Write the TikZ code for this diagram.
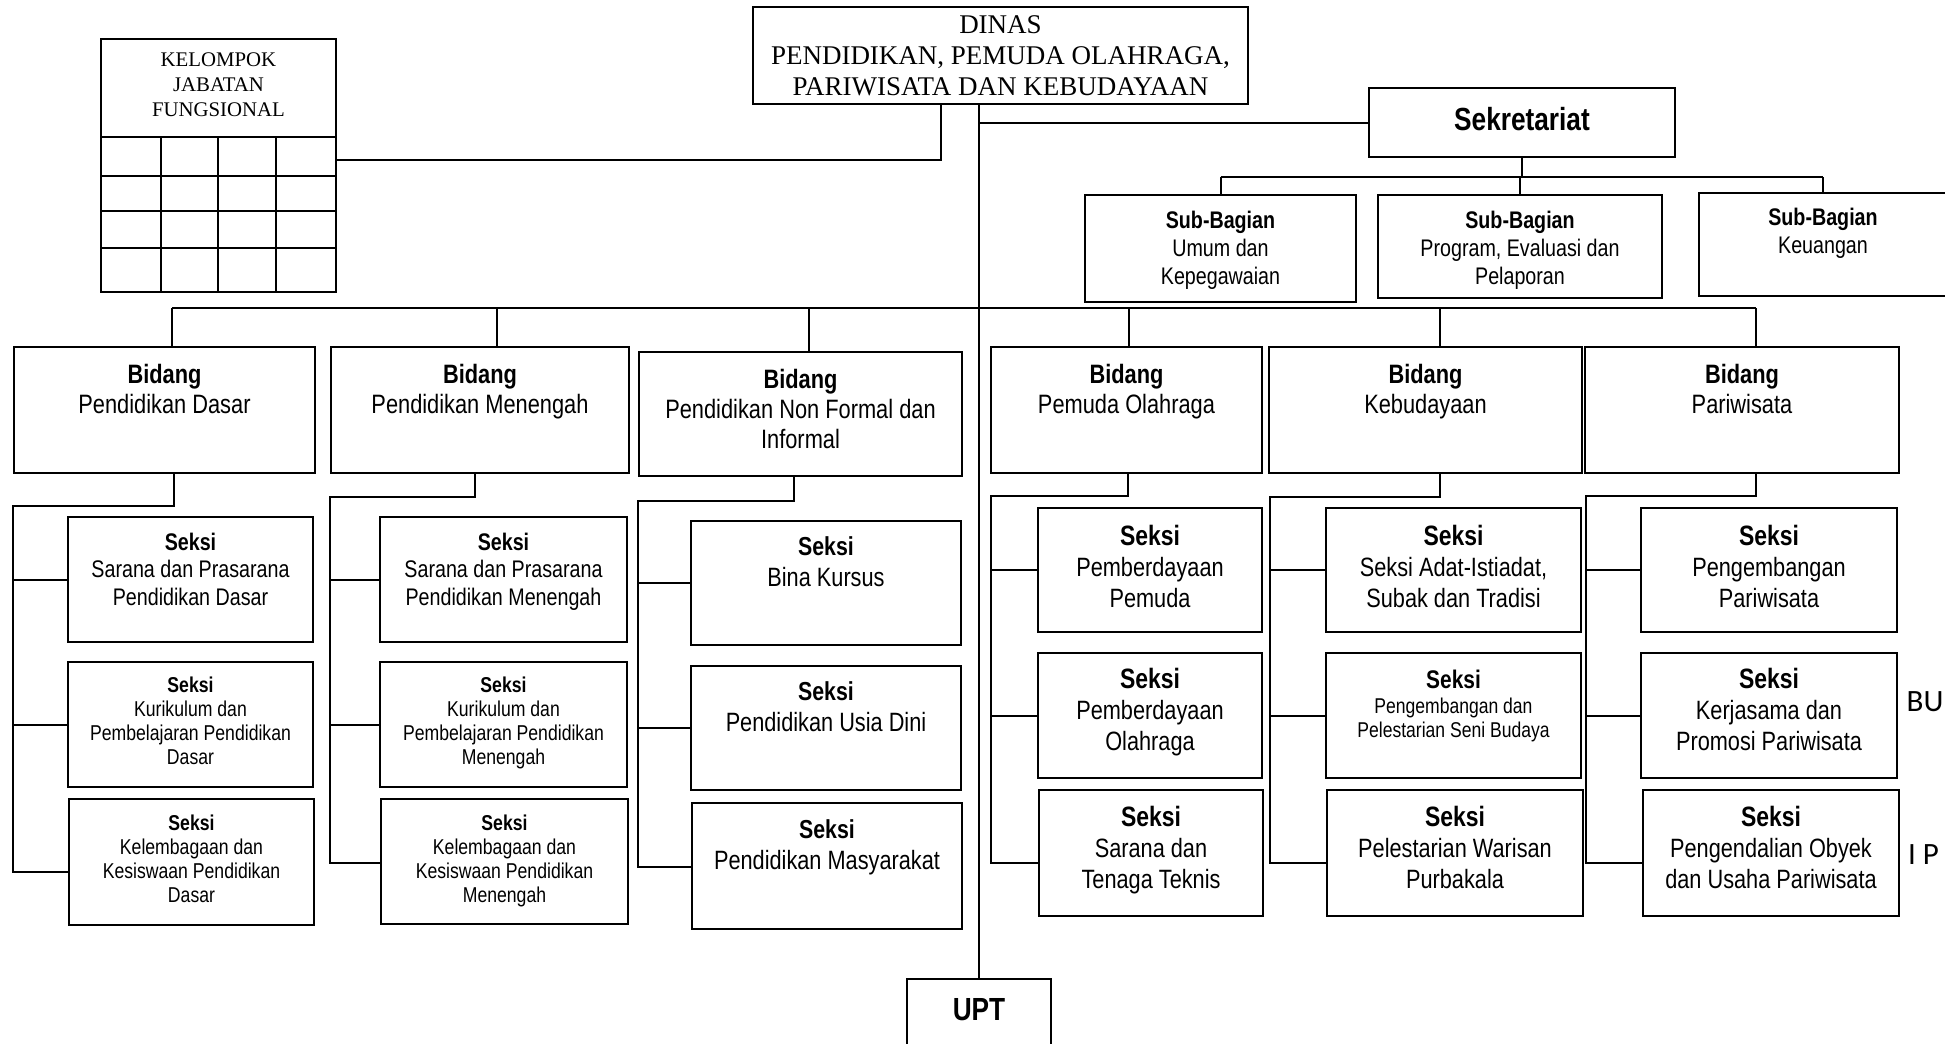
\documentclass[tikz,border=0pt]{standalone}
\usepackage{fontspec}
\setmainfont{Liberation Serif}
\newfontfamily\narrowsf[FakeStretch=0.82]{Liberation Sans}
\newfontfamily\calsf{Carlito}
\newcommand\fsz[2]{\fontsize{#1}{#2}\selectfont}
% box with its text: [style]{name}{x1}{y1}{x2}{y2}{last baseline}{text}
\newcommand\orgbox[8][]{%
  \node[box, minimum width={(#5-#3)*0.5pt}, minimum height={(#6-#4)*0.5pt}] (#2) at ({(#3+#5)/2},{(#4+#6)/2}) {};
  \node[txt, #1] (#2t) at ({(#3+#5)/2},#7) {#8};}

\begin{document}
\begin{tikzpicture}[x=0.5pt, y=-0.5pt]
\tikzstyle{every node}=[inner sep=0pt, outer sep=0pt]
\tikzstyle{box}=[draw, line width=1pt]
\tikzstyle{txt}=[anchor=base, align=center, font=\narrowsf]
\tikzstyle{conn}=[line width=1pt]
\tikzstyle{bidang}=[font=\narrowsf\fsz{13.3}{15}]
\tikzstyle{seksiL}=[font=\narrowsf\fsz{13.25}{15.5}]
\tikzstyle{seksiM}=[font=\narrowsf\fsz{12}{13.75}]
\tikzstyle{seksiS}=[font=\narrowsf\fsz{10.75}{12}]
\tikzstyle{subbag}=[font=\narrowsf\fsz{12}{14}]
\tikzstyle{big}=[font=\narrowsf\bfseries\fsz{16}{18}]
\useasboundingbox (0,0) rectangle (1945,1044);
\clip (0,0) rectangle (1945,1044);

% top
\orgbox[font=\fsz{13.5}{15.5}]{dinas}{753}{7}{1248}{104}{95}{DINAS\\PENDIDIKAN, PEMUDA OLAHRAGA,\\PARIWISATA DAN KEBUDAYAAN}
\orgbox[font=\fsz{10.4}{12.35}]{kel}{101}{39}{336}{292}{116}{KELOMPOK\\JABATAN\\FUNGSIONAL}
\foreach \y in {137,176,211,248} \draw[conn] (101,\y) -- (336,\y);
\foreach \x in {161,217.5,275.5} \draw[conn] (\x,137) -- (\x,292);
\orgbox[big]{sek}{1369}{88}{1675}{157}{130}{Sekretariat}
\orgbox[big]{upt}{907}{979}{1051}{1070}{1020}{UPT}

% sub-bagian
\orgbox[subbag]{sb1}{1085}{195}{1356}{302}{284}{\textbf{Sub-Bagian}\\Umum dan\\Kepegawaian}
\orgbox[subbag]{sb2}{1378}{195}{1662}{298}{284}{\textbf{Sub-Bagian}\\Program, Evaluasi dan\\Pelaporan}
\orgbox[subbag]{sb3}{1699}{193}{1947}{296}{253}{\textbf{Sub-Bagian}\\Keuangan}

% bidang
\orgbox[bidang]{b1}{14}{347}{315}{473}{413}{\textbf{Bidang}\\Pendidikan Dasar}
\orgbox[bidang]{b2}{331}{347}{629}{473}{413}{\textbf{Bidang}\\Pendidikan Menengah}
\orgbox[bidang]{b3}{639}{352}{962}{476}{448}{\textbf{Bidang}\\Pendidikan Non Formal dan\\Informal}
\orgbox[bidang]{b4}{991}{347}{1262}{473}{413}{\textbf{Bidang}\\Pemuda Olahraga}
\orgbox[bidang]{b5}{1269}{347}{1582}{473}{413}{\textbf{Bidang}\\Kebudayaan}
\orgbox[bidang]{b6}{1585}{347}{1899}{473}{413}{\textbf{Bidang}\\Pariwisata}

% seksi
\orgbox[seksiM]{s11}{68}{517}{313}{642}{605}{\textbf{Seksi}\\Sarana dan Prasarana\\Pendidikan Dasar}
\orgbox[seksiS]{s12}{68}{662}{313}{787}{764}{\textbf{Seksi}\\Kurikulum dan\\Pembelajaran Pendidikan\\Dasar}
\orgbox[seksiS]{s13}{69}{799}{314}{925}{902}{\textbf{Seksi}\\Kelembagaan dan\\Kesiswaan Pendidikan\\Dasar}
\orgbox[seksiM]{s21}{380}{517}{627}{642}{605}{\textbf{Seksi}\\Sarana dan Prasarana\\Pendidikan Menengah}
\orgbox[seksiS]{s22}{380}{662}{627}{787}{764}{\textbf{Seksi}\\Kurikulum dan\\Pembelajaran Pendidikan\\Menengah}
\orgbox[seksiS]{s23}{381}{799}{628}{924}{902}{\textbf{Seksi}\\Kelembagaan dan\\Kesiswaan Pendidikan\\Menengah}
\orgbox[seksiL]{s31}{691}{521}{961}{645}{586}{{\fsz{13}{15}\bfseries Seksi}\\Bina Kursus}
\orgbox[seksiL]{s32}{691}{666}{961}{790}{731}{{\fsz{13}{15}\bfseries Seksi}\\Pendidikan Usia Dini}
\orgbox[seksiL]{s33}{692}{803}{962}{929}{869}{{\fsz{13}{15}\bfseries Seksi}\\Pendidikan Masyarakat}
\orgbox[seksiL]{s41}{1038}{508}{1262}{632}{607}{{\fsz{14}{15}\bfseries Seksi}\\Pemberdayaan\\Pemuda}
\orgbox[seksiL]{s42}{1038}{653}{1262}{778}{750}{{\fsz{14}{15}\bfseries Seksi}\\Pemberdayaan\\Olahraga}
\orgbox[seksiL]{s43}{1039}{790}{1263}{916}{888}{{\fsz{14}{15}\bfseries Seksi}\\Sarana dan\\Tenaga Teknis}
\orgbox[seksiL]{s51}{1326}{508}{1581}{632}{607}{{\fsz{14}{15}\bfseries Seksi}\\Seksi Adat-Istiadat,\\Subak dan Tradisi}
\orgbox[font=\narrowsf\fsz{10.7}{12}]{s52}{1326}{653}{1581}{778}{737.5}{{\fsz{12.75}{14}\bfseries Seksi}\\[0.75pt]Pengembangan dan\\Pelestarian Seni Budaya}
\orgbox[seksiL]{s53}{1327}{790}{1583}{916}{888}{{\fsz{14}{15}\bfseries Seksi}\\Pelestarian Warisan\\Purbakala}
\orgbox[seksiL]{s61}{1641}{508}{1897}{632}{607}{{\fsz{14}{15}\bfseries Seksi}\\Pengembangan\\Pariwisata}
\orgbox[seksiL]{s62}{1641}{653}{1897}{778}{750}{{\fsz{14}{15}\bfseries Seksi}\\Kerjasama dan\\Promosi Pariwisata}
\orgbox[seksiL]{s63}{1643}{790}{1899}{916}{888}{{\fsz{14}{15}\bfseries Seksi}\\Pengendalian Obyek\\dan Usaha Pariwisata}

% lines
\coordinate (kj) at (941,160);
\draw[conn] (kel.east |- kj) -- (kj) -- (kj |- dinas.south);
\draw[conn] (upt.north |- dinas.south) -- (upt.north);
\draw[conn] (upt.north |- sek.west) -- (sek.west);
\coordinate (sbus) at (1525,177);
\draw[conn] (sek.south) -- (sek.south |- sbus);
\draw[conn] (sb1.north |- sbus) -- (sb3.north |- sbus);
\foreach \n in {sb1,sb2,sb3} \draw[conn] (\n.north |- sbus) -- (\n.north);

\foreach \i/\x in {1/172,2/497,3/809,4/1129,5/1440,6/1756} \coordinate (t\i) at (\x,308);
\draw[conn] (t1) -- (t6);
\foreach \i in {1,...,6} \draw[conn] (t\i) -- (t\i |- b\i.north);

\foreach \i/\dx/\ex/\by/\off in {1/174/13/506/-5, 2/475/330/497/-0.75, 3/794/638/501/-0.5,
    4/1128/991/496/-5, 5/1440/1270/497/-5, 6/1756/1586/496/-5} {
  \coordinate (d\i) at (\dx,\by);
  \coordinate (e\i) at (\ex,\by);
  \draw[conn] (d\i |- b\i.south) -- (d\i) -- (e\i) |- ([yshift=\off pt]s\i3.west);
  \foreach \r in {1,2} \draw[conn] (e\i |- s\i\r.west) -- (s\i\r.west);
}

% cut-off text at the right edge
\node[font=\calsf\fsz{15.5}{18}, anchor=base west] (frag1) at (1906.7,711.7) {BU};
\node[font=\calsf\fsz{15.5}{18}, anchor=base west] (frag2) at (1908,864) {I P};
\end{tikzpicture}
\end{document}
